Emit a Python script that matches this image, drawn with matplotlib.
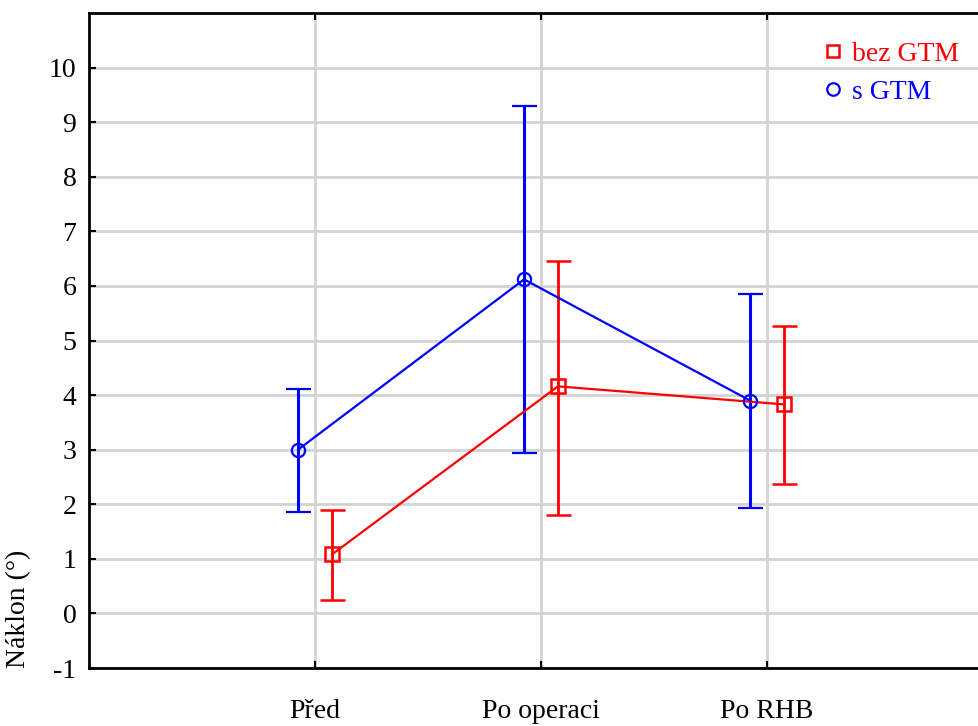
import numpy as np
import matplotlib.pyplot as plt
from matplotlib.lines import Line2D

# Data
categories = ['Před', 'Po operaci', 'Po RHB']
s_mean = [3.0, 6.12, 3.90]
s_upper = [4.12, 9.29, 5.85]
s_lower = [1.85, 2.94, 1.93]
bez_mean = [1.08, 4.16, 3.83]
bez_upper = [1.90, 6.45, 5.26]
bez_lower = [0.24, 1.80, 2.38]

plt.rcParams['font.family'] = ['Liberation Serif', 'DejaVu Serif']
plt.rcParams['axes.unicode_minus'] = False

fig = plt.figure(figsize=(9.79, 7.26), dpi=100)
# axes run past the right edge of the image like in the original
ax = fig.add_axes([89 / 979, 1 - 668 / 726, 904 / 979, 655 / 726])

x = np.arange(1, len(categories) + 1)
off = 0.075

s_err = [np.array(s_mean) - np.array(s_lower), np.array(s_upper) - np.array(s_mean)]
b_err = [np.array(bez_mean) - np.array(bez_lower), np.array(bez_upper) - np.array(bez_mean)]

ax.errorbar(x + off, bez_mean, yerr=b_err, color='#ff0000', marker='s', ms=9.5,
            mfc='none', mew=1.8, lw=1.6, elinewidth=2, capsize=9, capthick=2,
            zorder=3)
ax.errorbar(x - off, s_mean, yerr=s_err, color='#0000ff', marker='o', ms=9.5,
            mfc='none', mew=1.6, lw=1.6, elinewidth=2.2, capsize=9, capthick=2.2,
            zorder=3)

ax.set_xlim(0, 4)
ax.set_ylim(-1, 11)
ax.set_yticks(range(-1, 11))
ax.set_xticks(x)
ax.set_xticklabels(categories)
ax.grid(True, color='#d3d3d3', lw=2)
ax.set_axisbelow(True)
ax.tick_params(direction='in', top=True, length=5, width=1.5, labelsize=20, pad=9)
ax.tick_params(axis='x', pad=22)
for side in ['left', 'bottom', 'top', 'right']:
    ax.spines[side].set_linewidth(2)

ax.set_ylabel('Náklon (°)', fontsize=20)
ax.yaxis.set_label_coords(-0.078, 0.0, transform=ax.transAxes)
ax.yaxis.label.set_va('center')
ax.yaxis.label.set_ha('left')

# legend with coloured texts
handles = [
    Line2D([], [], color='#ff0000', marker='s', ms=9, mfc='none', mew=1.8, ls='none'),
    Line2D([], [], color='#0000ff', marker='o', ms=9, mfc='none', mew=1.6, ls='none'),
]
leg = ax.legend(handles, ['bez GTM', 's GTM'], loc='upper left',
                bbox_to_anchor=(0.786, 0.995), frameon=False,
                fontsize=20, handlelength=0.6, handletextpad=0.4, labelspacing=0.45)
for txt, c in zip(leg.get_texts(), ['#ff0000', '#0000ff']):
    txt.set_color(c)

fig.savefig('out.png', dpi=100)
